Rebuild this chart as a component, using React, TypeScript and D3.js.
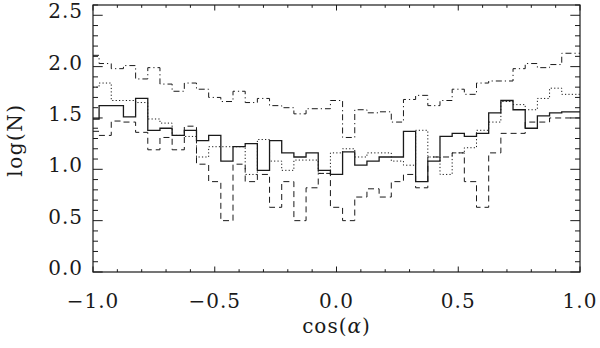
import React from 'react'
import { scaleLinear, line, curveStep } from 'd3'

// bin centres of cos(alpha)
const binCentres = [
  -1.0, -0.95, -0.9, -0.85, -0.8, -0.75, -0.7, -0.65, -0.6, -0.55,
  -0.5, -0.45, -0.4, -0.35, -0.3, -0.25, -0.2, -0.15, -0.1, -0.05,
  0.0, 0.05, 0.1, 0.15, 0.2, 0.25, 0.3, 0.35, 0.4, 0.45,
  0.5, 0.55, 0.6, 0.65, 0.7, 0.75, 0.8, 0.85, 0.9, 0.95, 1.0,
]

const solidSeries = [
  1.49, 1.62, 1.62, 1.51, 1.69, 1.38, 1.40, 1.33, 1.38, 1.28,
  1.33, 1.08, 1.22, 1.25, 0.99, 1.28, 1.16, 1.12, 1.16, 0.99,
  0.95, 1.17, 1.04, 1.08, 1.12, 1.12, 1.37, 0.88, 1.08, 1.32,
  1.35, 1.32, 1.35, 1.55, 1.67, 1.58, 1.40, 1.52, 1.55, 1.56, 1.56,
]

const dottedSeries = [
  1.80, 1.84, 1.67, 1.67, 1.65, 1.49, 1.45, 1.33, 1.32, 1.12,
  1.22, 1.22, 1.22, 0.95, 1.29, 1.08, 0.99, 1.09, 1.09, 0.96,
  1.16, 1.20, 1.12, 1.16, 1.16, 1.08, 1.04, 1.38, 1.12, 0.95,
  1.16, 1.21, 1.38, 1.46, 1.66, 1.63, 1.58, 1.69, 1.79, 1.73, 1.73,
]

const dashedSeries = [
  1.37, 1.33, 1.47, 1.46, 1.36, 1.19, 1.31, 1.19, 1.42, 1.05,
  0.88, 0.50, 1.05, 0.88, 0.95, 0.63, 0.88, 0.50, 0.82, 0.96,
  0.63, 0.50, 0.73, 0.81, 0.73, 0.88, 0.95, 0.82, 1.12, 1.12,
  1.16, 0.88, 0.63, 1.16, 1.35, 1.35, 1.46, 1.46, 1.50, 1.50, 1.50,
]

const dashDotSeries = [
  2.11, 2.03, 1.98, 2.01, 1.88, 1.99, 1.83, 1.76, 1.84, 1.78,
  1.70, 1.66, 1.76, 1.65, 1.69, 1.62, 1.60, 1.54, 1.59, 1.59,
  1.67, 1.31, 1.58, 1.55, 1.56, 1.46, 1.68, 1.72, 1.62, 1.67,
  1.78, 1.73, 1.84, 1.86, 1.86, 1.98, 2.03, 1.99, 2.02, 2.13, 2.13,
]

const xTickValues = [-1, -0.5, 0, 0.5, 1]
const xTickLabels = ['\u22121.0', '\u22120.5', '0.0', '0.5', '1.0']
const yTickValues = [0, 0.5, 1, 1.5, 2, 2.5]
const yTickLabels = ['0.0', '0.5', '1.0', '1.5', '2.0', '2.5']

const width = 600
const height = 348
const left = 93
const right = 580
const top = 5
const bottom = 272

const font = '"DejaVu Serif", serif'
const ink = '#1a1a1a'

export default function App() {
  const x = scaleLinear().domain([-1, 1]).range([left, right])
  const y = scaleLinear().domain([0, 2.6]).range([bottom, top])

  const step = line<number>()
    .x((_, i) => x(binCentres[i]))
    .y(d => y(d))
    .curve(curveStep)

  const series = [
    { values: dashDotSeries, dash: '6,3,1.2,3', w: 1 },
    { values: dashedSeries, dash: '6,4', w: 1 },
    { values: dottedSeries, dash: '1.2,2.2', w: 1 },
    { values: solidSeries, dash: undefined, w: 1.3 },
  ]

  const xMinor = x.ticks(20)
  const yMinor = y.ticks(26)

  return (
    <svg width={width} height={height} style={{ position: 'absolute', left: 0, top: 0, background: '#fff' }}>
      {series.map((s, i) => (
        <path key={i} d={step(s.values) || ''} fill="none" stroke={ink}
          strokeWidth={s.w} strokeDasharray={s.dash} />
      ))}

      {/* x ticks, bottom and top */}
      {xMinor.map(t => {
        const major = xTickValues.some(v => Math.abs(v - t) < 1e-9)
        const len = major ? 5.5 : 2.8
        return (
          <g key={'x' + t} stroke={ink} strokeWidth={1}>
            <line x1={x(t)} x2={x(t)} y1={bottom} y2={bottom - len} />
            <line x1={x(t)} x2={x(t)} y1={top} y2={top + len} />
          </g>
        )
      })}
      {/* y ticks, left and right */}
      {yMinor.map(t => {
        const major = yTickValues.some(v => Math.abs(v - t) < 1e-9)
        const len = major ? 9.7 : 5
        return (
          <g key={'y' + t} stroke={ink} strokeWidth={1}>
            <line x1={left} x2={left + len} y1={y(t)} y2={y(t)} />
            <line x1={right} x2={right - len} y1={y(t)} y2={y(t)} />
          </g>
        )
      })}

      <rect x={left} y={top} width={right - left} height={bottom - top}
        fill="none" stroke={ink} strokeWidth={1.2} />

      {xTickValues.map((t, i) => (
        <text key={'xl' + t} x={x(t)} y={308} textAnchor="middle"
          fontFamily={font} fontSize={20} letterSpacing={1} fill={ink}>
          {xTickLabels[i]}
        </text>
      ))}
      {yTickValues.map((t, i) => (
        <text key={'yl' + t} x={83} y={y(t) - 4} textAnchor="end" dominantBaseline="central"
          fontFamily={font} fontSize={20} letterSpacing={1} fill={ink}>
          {yTickLabels[i]}
        </text>
      ))}

      <text x={(left + right) / 2} y={333} textAnchor="middle"
        fontFamily={font} fontSize={20} letterSpacing={1} fill={ink}>
        cos(<tspan fontStyle="italic">α</tspan>)
      </text>
      <text transform={`translate(22,140) rotate(-90)`} textAnchor="middle"
        fontFamily={font} fontSize={20} letterSpacing={1.5} fill={ink}>
        log(N)
      </text>
    </svg>
  )
}
